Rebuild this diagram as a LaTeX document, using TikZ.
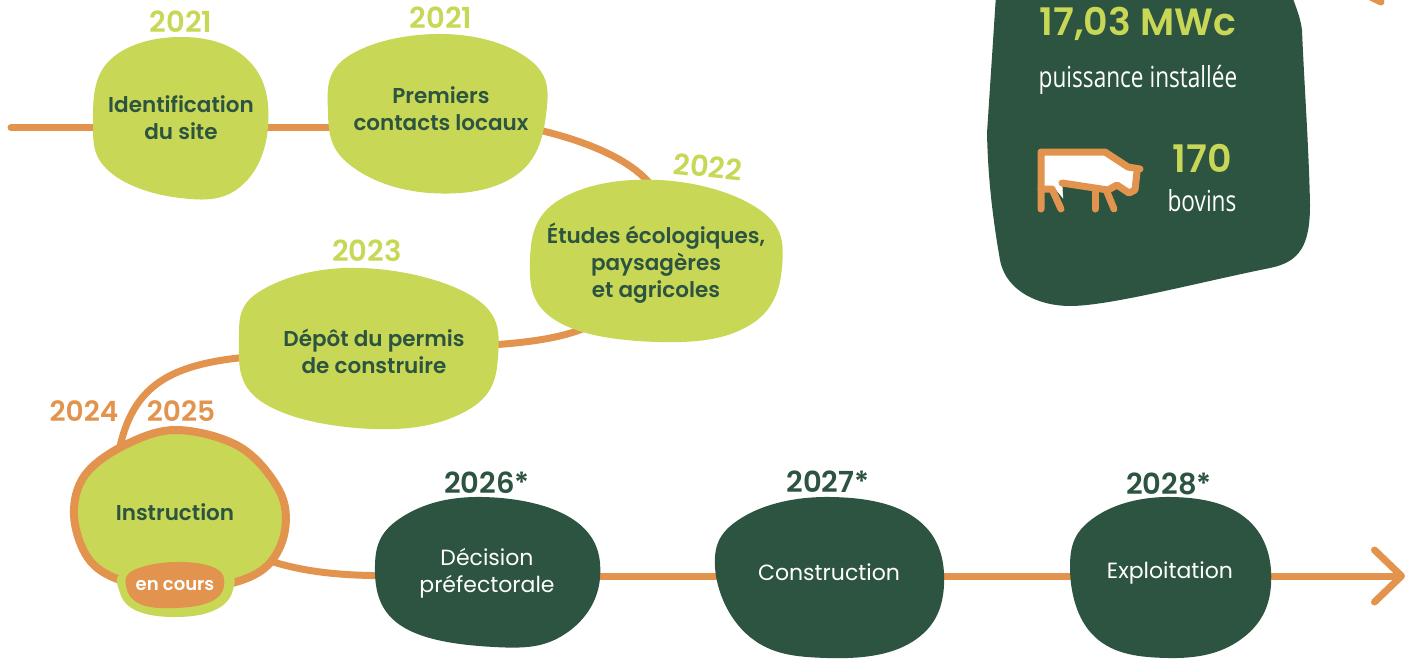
\documentclass[tikz,border=0pt]{standalone}
\usepackage{fontspec}
\setmainfont{Poppins}[BoldFont={Poppins SemiBold}]
\newfontfamily\narrowfont[FakeStretch=0.78]{Open Sans}
\usetikzlibrary{arrows.meta,positioning,calc}
\definecolor{pvlime}{RGB}{200, 215, 85}
\definecolor{pvdark}{RGB}{44, 84, 64}
\definecolor{pvorange}{RGB}{226, 148, 78}

\pgfdeclarelayer{background}
\pgfdeclarelayer{blobs}
\pgfsetlayers{background,blobs,main}

\begin{document}
\begin{tikzpicture}[
		x=1pt, y=-1pt,
		% Node styles
		step_lime/.style={text=pvdark, align=center, inner sep=2pt, font=\fontsize{21.5}{27}\selectfont\bfseries},
		step_dark/.style={text=white, align=center, inner sep=2pt, font=\fontsize{22}{27}\selectfont},
		year_lime/.style={text=pvlime, inner sep=0pt, font=\fontsize{29}{30}\selectfont\bfseries},
		year_dark/.style={text=pvdark, inner sep=0pt, font=\fontsize{29}{30}\selectfont\bfseries},
		year_orange/.style={text=pvorange, inner sep=0pt, font=\fontsize{28}{30}\selectfont\bfseries},
		figure_big/.style={text=pvlime, inner sep=0pt, font=\fontsize{38}{40}\selectfont\bfseries},
		figure_small/.style={text=white, inner sep=0pt, font=\fontsize{29}{32}\selectfont\narrowfont},
		connector/.style={draw=pvorange, line width=7pt, line cap=round},
		cowline/.style={draw=pvorange, line width=7pt, line cap=round, line join=round},
		blob/.style={smooth cycle, tension=0.7},
	]

	\useasboundingbox (0,0) rectangle (1417,659);

	% Upper row
	\node[step_lime] (identification) at (181,118) {Identification \\ du site};
	\node[step_lime] (premiers) at (441,109) {Premiers \\ contacts locaux};
	\node[step_lime] (etudes) at (656,263) {Études écologiques, \\ paysagères \\ et agricoles};
	\node[step_lime] (depot) at (374,351) {Dépôt du permis \\ de construire};
	\node[step_lime] (instruction) at (175,512) {Instruction};
	\node[text=white, inner sep=1pt, font=\fontsize{18}{22}\selectfont\bfseries] (encours) at (175,586) {en cours};

	% Lower row
	\node[step_dark] (decision) at (487,573) {Décision \\ préfectorale};
	\node[step_dark] (construction) at (829,572) {Construction};
	\node[step_dark] (exploitation) at (1170,573) {Exploitation};

	% Years
	\node[year_lime] (year_identification) at (181,22) {2021};
	\node[year_lime] (year_premiers) at (441,18) {2021};
	\node[year_lime, rotate=-6] (year_etudes) at (708,167) {2022};
	\node[year_lime] (year_depot) at (367,251) {2023};
	\node[year_orange] (year_start) at (84,411) {2024};
	\node[year_orange] (year_end) at (181,411) {2025};
	\node[year_dark] (year_decision) at (487,483) {2026*};
	\node[year_dark] (year_construction) at (828,482) {2027*};
	\node[year_dark] (year_exploitation) at (1169,484) {2028*};

	% Panel figures
	\node[figure_big] (power) at (1138,24) {17,03 MWc};
	\node[figure_small] (power_label) [below=24pt of power] {puissance installée};
	\node[figure_big] (cattle) at (1202,158) {170};
	\node[figure_small] (cattle_label) [below=17pt of cattle] {bovins};

	% Free ends of the line
	\coordinate (line_start) at (11,127.5);
	\coordinate (line_end) at (1405,576);
	\coordinate (corner_a) at (1352,-12);
	\coordinate (corner_b) at (1381,2);

	% Connections
	\begin{pgfonlayer}{background}
		\draw[connector] (line_start) -- ([yshift=-9.5pt]identification.center);
		\draw[connector] ([yshift=-9.5pt]identification.center) -- ([yshift=-18.5pt]premiers.center);
		\draw[connector] (premiers) .. controls (595,142) and (668,172) .. (etudes);
		\draw[connector] (depot) .. controls (535,343) and (590,337) .. (etudes);
		\draw[connector] (depot) .. controls (160,360) and (118,385) .. (instruction.north west);
		\draw[connector] (instruction) .. controls (265,570) and (320,578) .. (decision);
		\draw[connector] ([yshift=-3pt]decision.center) -- ([yshift=-4pt]construction.center);
		\draw[connector] ([yshift=-4pt]construction.center) -- ([yshift=-3pt]exploitation.center);
		\draw[connector, -{Straight Barb[length=27pt,width=52pt,round]}] ([yshift=-3pt]exploitation.center) -- (line_end);
		\draw[connector] (corner_a) -- (corner_b);
	\end{pgfonlayer}

	% Blobs
	\begin{pgfonlayer}{blobs}
		\fill[pvlime] plot[blob] coordinates {(183,37) (250,62) (268,127) (240,187) (180,198) (110,172) (93,123) (110,60)};
		\fill[pvlime] plot[blob] coordinates {(443,34) (530,60) (546,115) (515,176) (430,193) (350,165) (328,113) (347,57)};
		\fill[pvlime] plot[blob] coordinates {(659,180) (760,210) (782,267) (750,325) (659,342) (555,320) (530,260) (559,200)};
		\fill[pvlime] plot[blob] coordinates {(362,268) (475,298) (498,357) (468,410) (373,429) (262,402) (239,340) (262,290)};
		\filldraw[fill=pvlime, draw=pvorange, line width=8pt] plot[smooth cycle, tension=0.6] coordinates {(177,430) (240,447) (279,490) (285,530) (268,565) (232,583) (175,590) (120,580) (88,558) (74,515) (85,475) (125,445)};
		\fill[pvlime] plot[blob] coordinates {(175,562) (226,570) (233,590) (215,610) (175,617) (135,610) (119,590) (124,572)};
		\fill[pvorange] plot[blob] coordinates {(175,562) (215,568) (224,586) (210,602) (175,608) (140,604) (126,586) (134,570)};
		\fill[pvdark] plot[blob] coordinates {(482,497) (574,520) (600,578) (565,634) (494,647) (400,625) (375,565) (402,517)};
		\fill[pvdark] plot[blob] coordinates {(831,497) (918,520) (944,585) (912,642) (827,658) (750,637) (715,567) (743,517)};
		\fill[pvdark] plot[blob] coordinates {(1172,497) (1248,520) (1271,585) (1240,640) (1168,658) (1095,637) (1070,567) (1095,517)};

		% Panel
		\fill[pvdark] (997,-20) -- (987,133) .. controls (988,180) and (993,220) .. (1000,260)
			.. controls (1006,292) and (1040,306) .. (1070,306)
			.. controls (1110,306) and (1200,282) .. (1270,268)
			.. controls (1300,262) and (1310,245) .. (1310,205)
			.. controls (1309,150) and (1304,80) .. (1302,30)
			.. controls (1300,15) and (1295,5) .. (1286,-20) -- cycle;
	\end{pgfonlayer}

	% Cow
	\filldraw[white] (1041,152) -- (1105,152) -- (1128,167) -- (1136,170) -- (1135,192) -- (1128,193) -- (1117,185) -- (1108,190) -- (1062,184) -- (1063,198) -- (1054,187) -- (1041,190) -- cycle;
	\draw[cowline] (1041,209) -- (1041,152) -- (1105,152) -- (1128,167) -- (1140,169);
	\draw[cowline] (1137,172) -- (1135,190) -- (1129,193) -- (1117,185) -- (1108,190) -- (1062,183);
	\draw[cowline] (1095,190) -- (1095,209);
	\draw[cowline] (1107,192) -- (1114,209);
	\draw[cowline] (1041,189) -- (1052,189) -- (1061,209);

\end{tikzpicture}
\end{document}
